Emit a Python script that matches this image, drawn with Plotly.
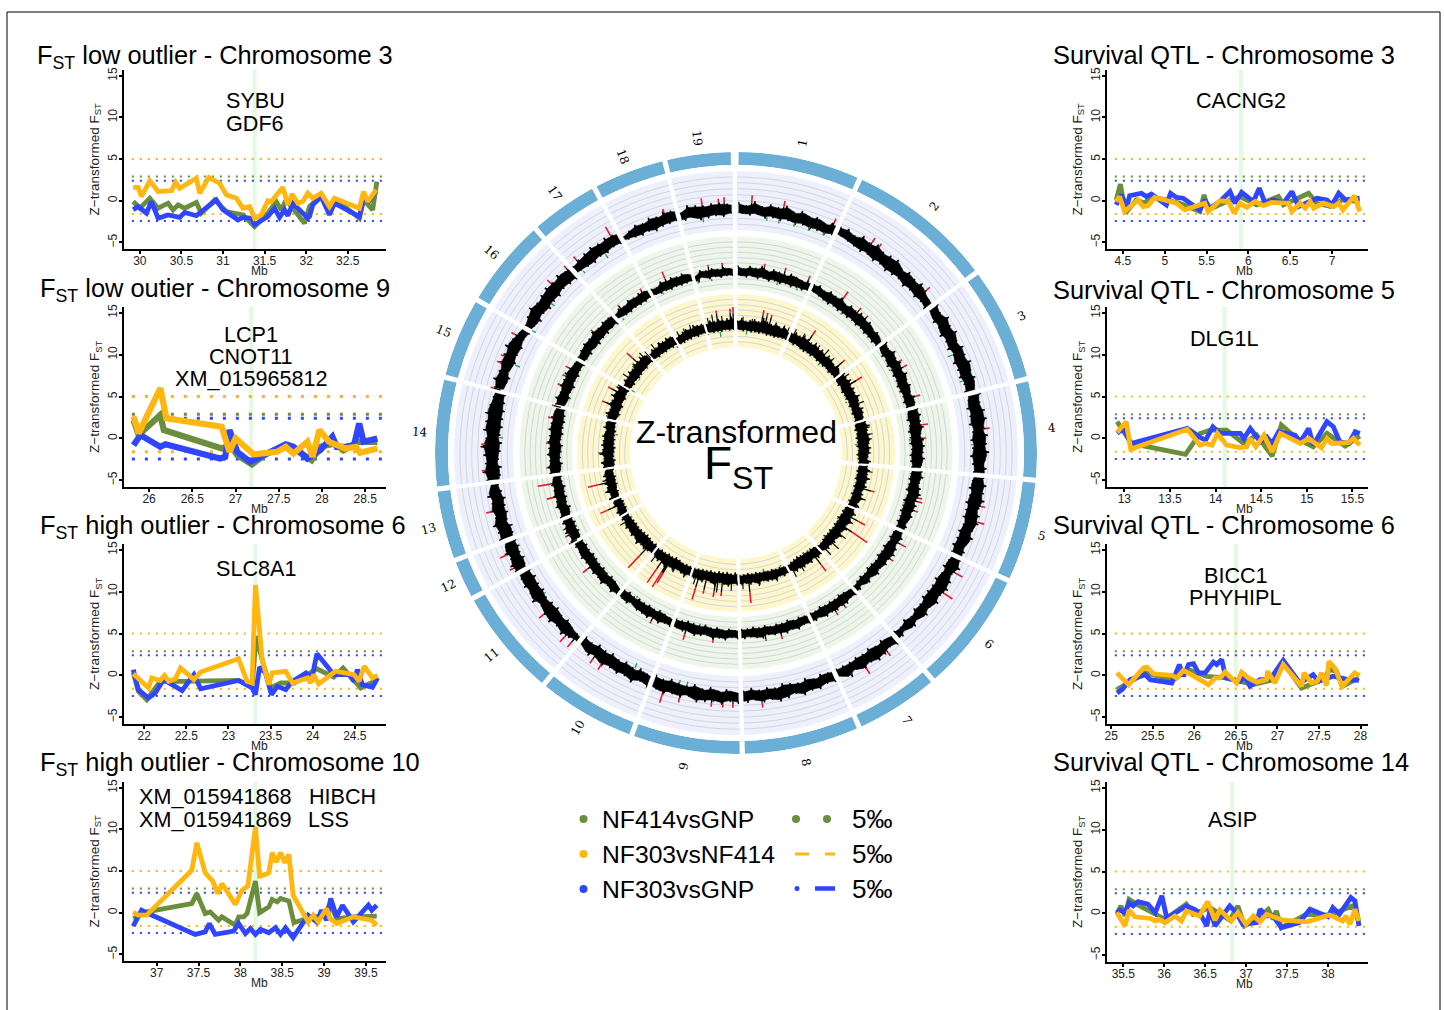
import numpy as np
import plotly.graph_objects as go

GREEN, ORANGE, BLUE = "#6B8E3D", "#FFB60F", "#2F45FF"
W, H = 1444, 1010
SANS = "Liberation Sans"

# ---------------- side panel data ----------------
p1_green_x = [29.92,30,30.12,30.22,30.34,30.4,30.46,30.54,30.68,30.74,30.9,31.04,31.24,31.38,31.54,31.64,31.7,31.76,31.98,32.04,32.18,32.28,32.36,32.64,32.69,32.8,32.85]
p1_green_y = [-0.1,-0.9,0.3,-0.9,-0.3,-1.1,-0.5,-0.9,-0.2,-1.5,0.1,-1.3,-1.7,-3.1,-1.5,-0.1,-1.1,0.1,-2.7,-0.7,0.6,-1.1,0.1,-2.1,0.1,-1.1,2.3]
p1_blue_x = [29.92,29.98,30.08,30.14,30.22,30.34,30.48,30.54,30.68,30.92,31,31.18,31.24,31.34,31.38,31.54,31.62,31.68,31.74,31.78,31.84,32.02,32.04,32.08,32.18,32.28,32.34,32.64,32.69,32.76,32.84]
p1_blue_y = [-1.1,-0.7,-1.5,-0.1,-2.1,-1.7,-2,-1.4,-1.8,0.1,-1.1,-2.3,-2,-2.1,-2.9,-1.9,-0.9,-2,-1.1,-1.8,-0.3,-2.1,-1.9,-0.5,0.5,-1.7,-0.3,-1.9,0.3,0,1.2]
p1_orange_x = [29.92,29.98,30.02,30.12,30.22,30.38,30.43,30.48,30.68,30.72,30.83,30.96,31.04,31.16,31.24,31.32,31.38,31.46,31.54,31.58,31.72,31.78,31.83,31.90,31.96,32.02,32.08,32.18,32.28,32.34,32.64,32.69,32.74,32.84]
p1_orange_y = [1.6,1.6,0.5,2.4,1.1,1.2,2.2,1.5,2.7,0.9,2.8,2.1,0.7,0.3,-0.9,-0.7,-2.1,-1.7,0,-0.1,1.6,-0.5,0.8,-0.3,-0.1,0.9,0.3,0.9,-0.7,0.3,-0.9,1.1,-0.1,1.3]

p2_green_x = [25.82,25.88,26.13,26.17,26.84,26.94,27.02,27.19,27.36,27.56,27.71,27.88,27.98,28.15,28.25,28.42,28.64]
p2_green_y = [2.2,0.4,2.8,1,-1.2,-0.8,-2,-3.1,-1.8,-1,-1.4,-2.6,-1,-0.6,-1.4,-0.4,-0.4]
p2_blue_x = [25.82,25.9,26.13,26.19,26.82,26.88,26.93,27.02,27.17,27.44,27.58,27.67,27.83,27.98,28.12,28.17,28.27,28.37,28.43,28.48,28.64]
p2_blue_y = [-0.8,0.4,-1,-0.7,-2.4,-2.2,1,-1.6,-2.8,-1.4,-0.7,-1,-2.4,-1.4,0.2,-1,-1,-0.8,1.8,-0.4,0]
p2_orange_x = [25.82,25.88,26.13,26.2,26.84,26.93,27,27.21,27.48,27.58,27.67,27.83,27.89,27.97,28.08,28.16,28.27,28.39,28.44,28.64]
p2_orange_y = [2.6,0.6,6,2.4,1.4,-1.6,0,-1.9,-1.6,-1,-1.8,-0.4,-2.2,1,-0.4,-0.8,-1.2,-1,-1.7,-1.2]

p3_green_x = [21.87,21.93,22.03,22.19,22.43,22.67,23.12,23.28,23.33,23.42,23.5,23.62,23.78,24.05,24.25,24.36,24.57,24.77]
p3_green_y = [0.3,-1.9,-2.9,-0.7,-0.7,-0.7,-0.6,-1.3,4.7,1.1,-1.5,-0.9,-0.9,0.8,-0.2,0.9,-1.5,-0.5]
p3_blue_x = [21.87,21.93,22.05,22.13,22.23,22.45,22.59,22.67,23.12,23.22,23.28,23.32,23.37,23.44,23.51,23.58,23.68,23.76,23.92,23.99,24.05,24.25,24.43,24.49,24.53,24.59,24.71,24.77]
p3_blue_y = [0.7,-1.7,-2.7,-2.1,-0.5,-1.8,0.1,-1.6,-0.6,-1.1,-1.5,-2.3,1,0.3,-2.3,-1.3,-1.7,-0.7,0.3,-0.3,2.6,0.1,0.1,-0.7,0.7,-1.1,-1.4,-0.3]
p3_orange_x = [21.87,22.05,22.09,22.19,22.24,22.29,22.37,22.43,22.59,22.67,23.12,23.22,23.28,23.32,23.40,23.48,23.52,23.68,23.76,23.94,23.97,24.01,24.07,24.27,24.49,24.55,24.61,24.71,24.77]
p3_orange_y = [0.2,-1.5,-0.3,-0.6,0,-0.7,-0.4,0.9,-0.5,0.4,2,-0.7,-0.9,10.8,1.9,-1.1,0.3,0.5,-0.9,-0.3,-0.9,0.1,-1,0.5,0.1,-0.7,1.1,-0.3,0]

p4_green_x = [36.72,36.88,37.42,37.48,37.58,37.64,37.74,37.78,37.94,37.98,38.04,38.08,38.18,38.23,38.34,38.38,38.44,38.48,38.58,38.64,38.79,39.01,39.07,39.15,39.35,39.63]
p4_green_y = [-0.7,0.1,1.1,2.3,-0.1,0.1,-0.9,-0.5,-1.5,-0.5,-0.5,-0.1,3.8,0,0.7,1.6,1.3,1.7,1.4,-1.2,-0.7,-0.3,1.1,-0.7,-0.5,-0.4]
p4_blue_x = [36.72,36.82,36.9,37.46,37.58,37.63,37.7,37.92,37.98,38.06,38.12,38.18,38.24,38.34,38.42,38.48,38.54,38.63,38.81,38.91,38.97,39.03,39.08,39.15,39.22,39.35,39.53,39.57,39.63]
p4_blue_y = [-1.6,0.3,-0.1,-2.6,-2.3,-1.3,-2.6,-2.2,-1.3,-2.5,-1.9,-2.6,-2,-2.4,-1.8,-2.6,-1.8,-3,-0.3,-1.1,0.3,-0.9,1.7,-0.5,0.9,-1.1,0.9,0.3,0.9]
p4_orange_x = [36.72,36.78,36.88,37.42,37.48,37.58,37.67,37.73,37.78,37.94,38.02,38.09,38.18,38.23,38.30,38.34,38.38,38.43,38.48,38.53,38.58,38.63,38.81,38.87,38.93,39.03,39.07,39.15,39.35,39.57,39.63]
p4_orange_y = [0.1,-0.3,-0.3,5.1,8.4,4.8,3.8,2.3,3.5,1,2.7,3.2,10.3,4.4,4.6,4.8,7.2,6.1,7.2,6,7,2.1,-1.1,-0.3,-1.1,0.5,-0.7,-1.3,-0.5,-0.9,-1.5]

r1_green_x = [4.42,4.47,4.53,4.66,4.76,4.84,5.18,5.42,5.47,5.52,5.74,5.9,6.1,6.36,6.42,6.72,6.82,6.98,7.12,7.33]
r1_green_y = [0.1,2,-1.5,0.1,-0.3,0.5,-0.3,-1.3,0.7,-1.1,-0.1,0.5,-0.5,0.5,-0.5,0.9,-0.3,-0.7,0.1,-0.1]
r1_blue_x = [4.42,4.48,4.55,4.58,4.72,4.78,4.84,5.02,5.07,5.14,5.22,5.42,5.48,5.54,5.66,5.78,5.84,5.92,6.06,6.13,6.2,6.3,6.42,6.52,6.6,6.78,6.82,6.94,7,7.08,7.16,7.33]
r1_blue_y = [-0.5,0.7,-0.7,0.6,0.9,0.5,0.8,-0.5,0.9,0.4,0.3,-1.1,0.1,-0.9,-0.1,1.1,-0.3,1,-0.1,1.5,-0.3,0.1,-0.3,1.1,-0.7,0.1,0.3,0.1,-0.5,0.9,0.1,0.3]
r1_orange_x = [4.42,4.46,4.52,4.68,4.74,4.8,4.88,5.14,5.24,5.44,5.48,5.52,5.66,5.76,5.83,5.9,5.98,6.08,6.18,6.28,6.48,6.52,6.62,6.68,6.74,6.78,6.9,7.02,7.08,7.13,7.27,7.33]
r1_orange_y = [-0.1,0.5,-1.3,0.1,-0.7,-0.6,0.4,-0.3,-1.1,-0.4,-0.3,-1.3,0,-0.1,-1.5,-0.3,-0.8,-0.1,-0.6,-0.2,-0.3,-1.3,-0.3,-0.9,-0.1,-0.9,-0.3,-0.7,-0.3,-1.1,0.6,-1.3]

r2_green_x = [12.92,13.08,13.67,13.83,13.94,14.12,14.31,14.45,14.62,14.72,14.89,15.07,15.22,15.42,15.58]
r2_green_y = [2,-0.6,-1.9,0.6,1,1,-0.6,0.4,-2.1,1.6,0,-1,0.6,-0.9,0.3]
r2_blue_x = [12.92,12.99,13.07,13.69,13.85,13.89,13.97,14.05,14.27,14.31,14.38,14.49,14.56,14.62,14.69,14.87,14.93,15.02,15.07,15.22,15.29,15.36,15.46,15.53,15.58]
r2_blue_y = [0.6,1.2,-0.6,1.2,0,-0.2,1.4,0.6,0.6,0,1.2,-0.4,0.2,-0.6,0.8,0.4,-0.4,1.2,-0.8,2,1.4,-0.4,-0.6,0.8,0.6]
r2_orange_x = [12.92,13.02,13.07,13.69,13.83,13.89,13.96,14.02,14.12,14.27,14.34,14.38,14.44,14.53,14.62,14.71,14.93,15.02,15.16,15.22,15.27,15.46,15.51,15.58]
r2_orange_y = [0.7,2,-1.3,1.1,-0.8,-0.6,-0.8,0.6,-0.8,-1.1,-1,0,-1,0.4,-1.6,0.6,-0.6,0,-1.1,0,-0.6,-0.5,0,-0.8]

r3_green_x = [25.07,25.23,25.41,25.75,25.93,26.15,26.39,26.55,26.71,26.95,27.07,27.29,27.55,27.63,27.71,27.78,27.98]
r3_green_y = [-1.7,-0.7,0.3,-0.5,0.7,-0.1,-0.3,-0.7,-1.1,-0.5,1.5,-1.5,-0.5,0.7,0.5,-1.3,-0.3]
r3_blue_x = [25.07,25.13,25.23,25.41,25.47,25.73,25.82,25.87,25.93,25.99,26.05,26.13,26.23,26.27,26.33,26.38,26.55,26.61,26.67,26.79,26.91,27.07,27.27,27.43,27.49,27.67,27.85,27.98]
r3_blue_y = [-2.1,-1.7,-0.5,0.1,-0.5,-0.9,1.3,-0.1,1.3,1.4,0.3,0.3,1.6,1.3,1.9,-0.3,-0.7,-0.1,-1.3,-0.5,-0.5,1.8,-0.9,0.1,-0.7,-0.1,-0.5,-0.6]
r3_orange_x = [25.07,25.21,25.39,25.43,25.51,25.73,25.79,25.87,26.03,26.17,26.25,26.31,26.37,26.51,26.57,26.65,26.75,26.87,26.88,26.97,27.07,27.29,27.32,27.41,27.48,27.53,27.59,27.62,27.69,27.78,27.93,27.99]
r3_orange_y = [0.3,-1.1,0.9,1,0.2,0,-0.3,0.6,-0.3,-1.1,-0.3,-0.3,0.4,-0.9,0.4,-0.3,-0.8,-0.5,0.5,-0.9,1.3,-1.3,0.3,-0.9,-0.7,0.3,-1.2,1.7,0.9,-1.3,0.3,0]

r4_green_x = [35.42,35.47,35.52,35.57,35.7,35.91,36.01,36.27,36.35,36.56,36.8,36.9,36.98,37.13,37.27,37.33,37.37,37.43,37.74,38.02,38.3,38.38]
r4_green_y = [-0.1,0.9,-0.3,1.7,0.9,-0.1,-0.7,1.1,-0.1,0.7,-0.8,0.9,-1.5,-0.7,0.5,-0.7,0.3,-1.7,-0.1,-0.2,0.9,-0.9]
r4_blue_x = [35.42,35.46,35.52,35.57,35.62,35.68,35.8,35.89,35.97,36.03,36.11,36.27,36.37,36.43,36.52,36.56,36.62,36.8,36.88,36.96,37.13,37.17,37.25,37.33,37.43,37.65,37.78,38,38.06,38.14,38.28,38.33,38.38]
r4_blue_y = [0.1,0.4,0.1,1.3,0.9,1.4,1.1,0.1,2.1,-0.5,-0.1,0.9,0.5,0.1,-1.5,0.5,-1.5,0.9,0.1,-1.3,-1.1,0.5,-0.3,-0.3,-1.7,-1.1,0.5,-0.4,0.7,-0.1,1.9,1.5,-1.5]
r4_orange_x = [35.42,35.52,35.57,35.64,35.83,35.89,35.93,36.01,36.13,36.21,36.27,36.43,36.53,36.62,36.68,36.82,36.9,37,37.09,37.17,37.25,37.45,37.74,38.02,38.18,38.22,38.27,38.33,38.38]
r4_orange_y = [0.1,-1.5,0.4,-0.4,-0.6,-0.9,-0.7,-1.1,-0.3,-0.9,0.3,-0.3,1.4,-0.8,0.4,-0.9,0.1,-1.3,-0.3,-1,-0.1,-0.8,-1,-0.2,-0.9,-0.3,-1.3,0.5,-0.9]

# thresholds (NF303vsNF414 high/low, NF414vsGNP high, NF303vsGNP high/low)
thr_orange = [5.0, -1.6]
thr_green = [2.9]
thr_blue = [2.4, -2.45]

# ---------------- genome-wide circos data ----------------
chr_names = [str(i) for i in range(1, 20)]
chr_start = [0.5,24.8,53.6,76.2,95.7,115.6,139.6,156.3,179.3,200.8,220.2,241.6,249.6,263.6,285.1,301.1,318.7,332.4,346.8]
chr_end = [23.8,52.6,75.2,94.7,114.6,138.6,155.3,178.3,199.8,219.2,240.6,248.6,262.6,284.1,300.1,317.7,331.4,345.8,359.0]

t1_hi = [
[2.5,1.5,3,1.5,2.5,2,3,1.5,2.5,1.5,2,1,2],
[2,2.5,1.5,2.8,2,3,2,2.5,3,1.5,2.5,2,2.8,1.5,1],
[2.5,1.5,3,2,2.8,1.5,2.5,2,3,2,2.5,1.5],
[2.8,2,3,3.2,2,3,2.5,3.2,2,2.5],
[2,3,2.5,3.2,2,2.8,3,2,2.8,1.5,2],
[2,3,1.5,2.5,3,2,2.8,1.5,2.5,1,2,0.5,1.5],
[2.5,1.5,2.5,3,2,3,1.5,3,1],
[2.2,1.5,2.5,2,2.8,1.5,2.5,3,2,2.5,1.5,2.2],
[2.5,1.8,2.8,2,2.5,3,1.5,2.5,2,2.8,2],
[2.5,1.5,3,2,2.5,2,3,1.5,2.5,1],
[1,2,3,2,3,2.5,1.5,3,2,2.5,2],
[2.5,3,2,3,2],
[3,2.5,3.5,2,3,2,3,1.5],
[2.5,3.5,2.5,3,4,2.5,3.5,3,3.5,2.5,2],
[2.5,3.5,2.5,3.5,3,3.8,2.5,1.5],
[1,2,3,2,2.5,3,2.5,3,2],
[1.5,2,2.5,3,2.5,3,2.5],
[0,1,2,1.5,2.5,2,3,2.5],
[1,3,2.5,2,2.5,2.5,2]]
t1_lo = [
[-1.5,-2,-1.5,-2.5,-2,-2.5,-2,-2.8,-2.2,-3,-2.5,-3,-2],
[-1,-1.5,-2,-2.5,-2,-2.8,-2.2,-3,-2.5,-2,-2.8,-2,-2.5,-1.8,-2.5],
[-1.5,-2.5,-2,-3,-2.2,-2.8,-2,-3,-2.5,-2.8,-2,-2.5],
[-2,-3,-2.5,-3,-2.2,-3,-2.5,-3.2,-2.5,-2],
[-2,-2.8,-2.2,-3,-2.5,-2.8,-2,-2.8,-2.5,-3,-2.5],
[-2,-2.8,-2,-3,-2.5,-2.8,-3,-2,-2.5,-1.5,-2.5,-1.5,-2],
[-1.5,-2.5,-2,-2.8,-2.2,-2.5,-2,-2,-2],
[-2,-2.5,-1.8,-2.8,-2,-2.5,-3,-2,-2.5,-2,-2.8,-2],
[-1.5,-2.5,-1.8,-2.8,-2,-3,-2.2,-2.5,-3,-2.2,-2.8],
[-2,-2.8,-2,-2.8,-2.2,-3,-2.5,-3,-2,-2.5],
[-1,-1.5,-2.5,-2,-2.8,-2.5,-2,-2.8,-2.5,-3,-2.5],
[-2,-2.8,-2.2,-2.8,-2.5],
[-2.5,-3,-2,-2.8,-2.5,-3,-2.2,-1.5],
[-2.5,-3,-2.2,-2.8,-3.2,-2.5,-3,-2.8,-3,-2.5,-2.2],
[-1,-2,-1,-2,-1.5,-2,-1.2,-2],
[-2,-3,-2.2,-3,-2.5,-2.8,-2,-2.5,-2.8],
[-1.5,-2,-2.5,-1.8,-2.2,-1.5,-1.8],
[-1.5,-2,-2.5,-2,-2.8,-2,-1.8,-1.5],
[-2,-1.5,-2.8,-2.5,-2,-2.5,-1.5]]

t2_hi = [
[2.5,1.5,2.5,2,3,1.5,2.5,2,1.5,2.5,2,1.5,2],
[2,2.5,1.5,2.5,2,2.8,1.5,2.5,2,2.8,2.2,2.5,1.5,2,1],
[2.5,1.5,3,2,2.8,2,3,2,2.5,1.5,2.5,2],
[2.5,3,2.5,3.2,2,2.8,3,2.5,3,2],
[2.5,3,2,2.8,3.2,2,2.8,2,2.5,1.5,2],
[1.5,2.5,1.5,2.5,3,2,2.5,1.5,2.5,1,2,0.5,1.5],
[2,1.5,2.5,2,2.5,2,2.5,1.5,2],
[2,1.5,2.5,1.8,2.5,2,2,1.5,2.5,2,1.5,2],
[2,1.5,2.5,2,2.5,1.5,2,2.5,1.5,2,1.5],
[2,1.5,2.5,1.5,2.5,2,2,1,2,1.5],
[1.5,2.5,1.5,2.8,2,2.5,2,2,2.5,1.8,2],
[2.5,2,3,2,2.5],
[2.5,1.8,2.8,2,2.5,2,2.5,1.5],
[2.5,3,2.2,3,2.5,3,2.5,3,2.5,2.8,2],
[2.5,3,2,3,2.5,3,2,1.5],
[1.5,2,2.5,2,2.8,2,2.5,2],
[1,2,1.5,2.5,2,2.5,2],
[1.5,1,2.5,2,2.5,2,2.5,1.5],
[0,2,1.5,2,1.5,2,1.5]]
t2_lo = [
[-1.5,-2,-1.5,-2.2,-1.8,-2.5,-2,-2.5,-2,-2.5,-2,-2.2,-1.5],
[-1,-1.5,-2,-2.5,-2,-2.5,-2.2,-2.5,-2,-2.5,-2,-2.5,-2.2,-2.5,-2],
[-1.5,-2.5,-2,-2.8,-2,-2.5,-2.2,-2.8,-2.5,-2,-2.5,-2],
[-2,-2.8,-2.2,-3,-2.5,-2.8,-2.2,-2.8,-2.5,-2],
[-2,-2.5,-2.2,-2.8,-2,-2.8,-2.5,-2.8,-2.2,-2.5,-2],
[-2,-2.5,-2,-2.8,-2.2,-2.8,-2,-2.5,-2.8,-2,-2.5,-2,-1.5],
[-1.5,-2,-2.5,-2,-2.2,-2,-2.5,-1.8,-2],
[-1.8,-2.2,-1.8,-2.5,-2,-2.2,-1.8,-2.5,-2,-2.5,-2,-2],
[-1.5,-2,-1.5,-2.2,-1.8,-2.5,-2,-2.2,-2.5,-2,-2],
[-1.5,-2,-2.5,-2,-2.5,-2.2,-2.5,-2,-2.5,-2],
[-1,-2,-2.5,-2,-2.5,-2.2,-2.5,-2.8,-2.2,-2.5,-2],
[-2,-2.5,-2.2,-2.5,-2],
[-2,-2.8,-2,-2.5,-2.2,-2.8,-2,-2],
[-2,-2.8,-2.2,-2.5,-3,-2.2,-2.8,-2.5,-2.8,-2.5,-2],
[-1.5,-2.5,-2,-2.8,-2,-2.5,-2,-2.5],
[-2,-2.5,-2,-2.8,-2.2,-2.5,-2,-2.5,-2],
[-1,-2,-2.2,-1.8,-2,-2,-1.5],
[-1.5,-2,-1.8,-2.2,-1.8,-2,-1.8,-1.5],
[-2.5,-1,-2,-1.5,-2,-1.5,-1.5]]

t3_hi = [
[2,3,2,2.5,3,2.5,4,3,2.5,3.5,2.5,3.5,2],
[2,3,2.5,3.5,3,2.5,3.5,2.5,3,2,3,2.5,2,3,1.5],
[3,2.5,3.5,2.5,3,2.5,3.5,2.5,2,3,2.5,2],
[2.5,3.5,2.5,3,3.5,2.5,3,2.5,2,3],
[2,3,2.5,3.5,2.5,3,2,2.5,3,2,2.5],
[1.5,3,2,3.5,2,3,2,3,2,2.5,2,2.5,1.5],
[2,2.5,1.5,2.5,2,2.5,2,2.5,1],
[1.5,2,1.5,2.5,2,2,1.5,2.5,1.5,2,1.5,2],
[2,1.5,2.5,2,1.5,3,2,1.5,2.5,2,2],
[1.5,2.5,2,1.5,2.5,2,3,2,2.5,1.5],
[1.5,2,2.5,2,3,2,2.5,2,2.5,1.5,2],
[2,2.5,1.5,2.5,2],
[3,2,3.5,2.5,3,2.5,3,2],
[2.5,3,2,3.5,2.5,3,2.5,3,2,3,2.5],
[2.5,3.5,2.5,4,3,4,3,3.5],
[1.5,2.5,2,3,2.5,3.5,3,3.5,2.5],
[1.5,2.5,2,3,2.5,3,2.5],
[1,1.5,2,2.5,2,3,2.5,2.5],
[2,3,2.5,3,2.5,3,3.5]]
t3_lo = [
[-1.5,-2,-1.8,-2.2,-2,-2.2,-1.8,-2.2,-2,-2.2,-1.8,-1.5,-1.5],
[-1.5,-2,-1.5,-2,-2.2,-1.8,-2,-1.5,-2,-1.8,-2,-1.5,-2,-1.5,-1.5],
[-1.5,-2,-1.5,-2.2,-1.8,-2,-1.5,-2,-1.5,-2,-1.5,-1.8],
[-2,-2.5,-2,-2.5,-2.2,-2.5,-2,-2.5,-2,-1.8],
[-1.5,-2,-1.8,-2.2,-1.5,-2,-1.5,-2,-1.5,-2,-1.5],
[-2,-2.5,-2.2,-2.8,-2.2,-2.5,-2,-2.5,-2.2,-2.5,-2,-1.5,-1.5],
[-2,-2.5,-2.2,-2.8,-2.5,-2.8,-2.5,-2,-1.5],
[-1.5,-2,-1.8,-2.2,-2,-2.5,-2.2,-2.5,-2.2,-2.5,-2.2,-2],
[-3,-2.5,-3,-2.8,-3,-2.5,-2.8,-2.5,-2.5,-2.2,-2],
[-2,-2.2,-2,-2.5,-2.8,-2.2,-2.5,-2,-2.2,-1.8],
[-2.5,-2.2,-2.5,-2.8,-2.5,-2.2,-2,-2.2,-2,-1.8,-1.5],
[-1.5,-2,-1.8,-2,-1.5],
[-1,-1.5,-1.2,-1.8,-1.5,-1.8,-1.2,-1.5],
[-2,-2.5,-2,-2.2,-2.5,-2,-2.2,-1.8,-2,-1.5,-1.5],
[-1,-2,-1.5,-2,-1.2,-1.8,-1.2,-1.5],
[-1.5,-2,-1.5,-2,-1.8,-1.5,-1.8,-1.2,-1.5],
[-1.2,-1.8,-1.5,-1.8,-1.5,-1.8,-1.5],
[-2,-2.2,-1.8,-2,-1.5,-2,-1.5,-1.5],
[-1.5,-2,-1.8,-2,-1.5,-1.8,-1.5]]

# outlier spikes: angle (degrees clockwise from chromosome 1 start) and top value
t1_high_theta = [352.2,357.3,356,343.3,330,320.4,317.4,312.5,298.2,292.7,291,285,272,266,256.5,246,242.6,230,223,221,214.8,212.5,197,193,185.6,183,180.7,174,148.8,142.7,124,118.7,106,102.3,3.6,11,23.1,32.9,34.8,49.5,84.4]
t1_high_z = [4.5,4.2,3.8,3.8,5.9,3.8,3.5,4.2,3.8,3.8,4.2,3.5,3.8,3.8,4.5,4.9,3.8,4.5,4.9,4.5,4.2,4.5,5.9,4.2,3.8,3.8,3.8,4.2,4.9,3.8,5.9,4.9,4.9,3.8,4.9,4.5,3.8,4.2,3.8,3.8,3.8]
t2_high_theta = [337.8,351.5,355.8,329.7,321.4,310.3,297,294.3,291.2,284.6,280.8,273,265.5,260.5,256.3,246,243.8,241.4,232,206.8,195.8,187,170.9,166,147.8,144.6,124.5,119,108,105,103.9,8.7,15.1,22.7,34.8,40.8,43.9,60.7,62.8,72.5,81.4,85.5]
t2_high_z = [5.6,3.5,3.7,3.5,3.2,3.5,3.9,3.5,3.9,3.5,3.9,3.5,3.5,7.6,5.2,3.2,3.5,3.5,5,3.7,5,3.9,3.5,4.1,4,3.5,3.7,5,3.9,4.5,4.1,3.9,4.1,4.2,5.8,4,3.5,3.5,4.3,4.6,5,3.7]
t3_high_theta = [352,357.6,358.8,312.5,297.3,291.2,257,246,223.2,214.4,212,211.3,211.7,196.7,193.2,189,188,186,174.3,142.7,124.3,119.2,105.7,11.1,14.6,12.8,33,49.5,58.9,58.9]
t3_high_z = [6.3,6.5,7.1,7.8,6.3,6.2,9.4,8,11.4,11.3,11.6,9.4,5.2,9.7,6.5,7.1,5.2,6.3,8.9,8,12,7.7,6.3,6.9,5.8,6.2,7.2,6,7.5,5.2]
t3_black_theta = [348,350,354,340,337,334,325,322,318,316,310,305,300,292,286,270,266,258,250,238,228,218,208,203,198,182,177,170,162,30,26,23,38,42,46,55,68,79,82,90,98,110,114,128,133,137,150,154,7,3]
t3_black_z = [4,5,4,3.5,3,3,3,4,3.5,4.5,3,4,3.5,3,3,4,3,3.5,3,3.5,3,4,3,3,4,4,3.5,3,3,4,4,3.5,3.5,4.5,3.5,4,4,3.5,4,3,4,4,3,4.5,5,4.5,3.5,4,3,3.5]
t1_low_theta = [301,291.7,273.7,309,320,326.7,352,21.8,18,14.3,10.5,7.5,65.6,72.4,88,193.8,191.9,205.2,233.8]
t1_low_z = [-3.4,-3.8,-3.5,-3.4,-3,-3.6,-3.6,-3.1,-3.4,-3.4,-3.4,-3.2,-3.8,-3,-2.8,-3.4,-3.4,-3.8,-2.6]
t2_low_theta = [319.9,288.2,352,347.5,335.5,13.7,20.4,37,61.7,85.7,214.5,191.8,106.5]
t2_low_z = [-2.8,-2.8,-2.9,-2.8,-2.5,-3.2,-2.8,-2.8,-2.8,-3,-2.9,-2.5,-2.5]
t3_low_theta = [278.7,301,307.2,331,352.6,347,5,43,65.4,86,118,122.8,133.3,143.8,146,158.5,166.9]
t3_low_z = [-3,-3.5,-2.5,-2.7,-3.8,-2.3,-3.1,-2.7,-2.7,-3,-2.3,-2.7,-2.8,-2.6,-2.7,-2.6,-3.1]

fig = go.Figure()
shapes, annos = [], []

def px_x(p): return p / W
def px_y(p): return 1 - p / H

def note(text, x, y, size, anchor="center", angle=0, font=SANS, color="black"):
    annos.append(dict(text=text, x=px_x(x), y=px_y(y), xref="paper", yref="paper", showarrow=False,
                      xanchor=anchor, yanchor="middle", textangle=angle,
                      font=dict(family=font, size=size, color=color)))

panels = [
 ("p1", "F<sub>ST</sub> low outlier - Chromosome 3", 35, 57, (124,386,70,249), (29.81,32.96), [30,30.5,31,31.5,32,32.5], 31.38,
  (p1_green_x,p1_green_y,p1_blue_x,p1_blue_y,p1_orange_x,p1_orange_y), [("SYBU",255,101),("GDF6",255,123)], 4.8, "2px,6px", 2),
 ("p2", "F<sub>ST</sub> low outier - Chromosome 9", 38, 290, (124,386,307,487), (25.71,28.74), [26,26.5,27,27.5,28,28.5], 27.18,
  (p2_green_x,p2_green_y,p2_blue_x,p2_blue_y,p2_orange_x,p2_orange_y), [("LCP1",251,334),("CNOT11",251,356),("XM_015965812",251,378)], 6.2, "3px,10px", 3),
 ("p3", "F<sub>ST</sub> high outlier - Chromosome 6", 38, 527, (124,386,544,724), (21.76,24.87), [22,22.5,23,23.5,24,24.5], 23.32,
  (p3_green_x,p3_green_y,p3_blue_x,p3_blue_y,p3_orange_x,p3_orange_y), [("SLC8A1",256,568)], 4.8, "2px,6px", 2),
 ("p4", "F<sub>ST</sub> high outlier - Chromosome 10", 38, 764, (124,386,782,961), (36.61,39.74), [37,37.5,38,38.5,39,39.5], 38.18,
  (p4_green_x,p4_green_y,p4_blue_x,p4_blue_y,p4_orange_x,p4_orange_y), [("XM_015941868",216,796),("XM_015941869",216,819),("HIBCH",342,796),("LSS",328,819)], 4.8, "2px,6px", 2),
 ("r1", "Survival QTL - Chromosome 3", 1051, 55, (1107,1368,70,249), (4.31,7.43), [4.5,5,5.5,6,6.5,7], 5.91,
  (r1_green_x,r1_green_y,r1_blue_x,r1_blue_y,r1_orange_x,r1_orange_y), [("CACNG2",1241,101)], 4.8, "2px,6px", 2),
 ("r2", "Survival QTL - Chromosome 5", 1051, 290, (1107,1368,307,487), (12.81,15.67), [13,13.5,14,14.5,15,15.5], 14.1,
  (r2_green_x,r2_green_y,r2_blue_x,r2_blue_y,r2_orange_x,r2_orange_y), [("DLG1L",1224,338)], 4.8, "2px,6px", 2),
 ("r3", "Survival QTL - Chromosome 6", 1051, 525, (1107,1368,544,724), (24.95,28.09), [25,25.5,26,26.5,27,27.5,28], 26.5,
  (r3_green_x,r3_green_y,r3_blue_x,r3_blue_y,r3_orange_x,r3_orange_y), [("BICC1",1236,575),("PHYHIPL",1235,597)], 4.8, "2px,6px", 2),
 ("r4", "Survival QTL - Chromosome 14", 1051, 762, (1107,1368,782,962), (35.30,38.49), [35.5,36,36.5,37,37.5,38], 36.83,
  (r4_green_x,r4_green_y,r4_blue_x,r4_blue_y,r4_orange_x,r4_orange_y), [("ASIP",1232,819)], 4.8, "2px,6px", 2),
]

layout_axes = {}
for i, (name, title, tx, ty, box, xr, xt, band, s, genes, lw, dash, dashw) in enumerate(panels, start=1):
    L, R, T, B = box
    n = "" if i == 1 else str(i)
    xa, ya = f"x{n}", f"y{n}"
    axis_common = dict(showgrid=False, zeroline=False, showline=True, linecolor="black", linewidth=2,
                       ticks="outside", ticklen=3, tickwidth=1.5, tickcolor="black",
                       tickfont=dict(family=SANS, size=12, color="#222"))
    layout_axes[f"xaxis{n}"] = dict(domain=[L/W, R/W], range=list(xr), anchor=ya, tickvals=xt, ticklabelstandoff=-3,
                                    ticktext=[f"{v:g}" for v in xt], tickangle=0, **axis_common)
    layout_axes[f"yaxis{n}"] = dict(domain=[1-B/H, 1-T/H], range=[-5.8, 15.7], anchor=xa, ticklabelstandoff=-3,
                                    tickvals=[-5,0,5,10,15], tickangle=-90, **axis_common)
    half = 2 * (xr[1]-xr[0]) / (R-L)
    shapes.append(dict(type="rect", xref=xa, yref=f"{ya} domain", x0=band-half, x1=band+half, y0=0, y1=1,
                       fillcolor="#E2FAE2", line=dict(width=0), layer="below"))
    x0 = xr[0] + 0.03*(xr[1]-xr[0])
    for vals, col in ((thr_orange, ORANGE), (thr_green, GREEN), (thr_blue, BLUE)):
        for v in vals:
            fig.add_trace(go.Scatter(x=[x0, xr[1]], y=[v, v], xaxis=xa, yaxis=ya, mode="lines", hoverinfo="skip",
                                     line=dict(color=col, width=dashw, dash=dash), showlegend=False))
    for (sx, sy, col) in ((s[0], s[1], GREEN), (s[2], s[3], BLUE), (s[4], s[5], ORANGE)):
        fig.add_trace(go.Scatter(x=sx, y=sy, xaxis=xa, yaxis=ya, mode="lines",
                                 line=dict(color=col, width=lw), showlegend=False))
    note(title, tx, ty, 25.4, anchor="left")
    for g, gx, gy in genes:
        note(g, gx, gy, 21.6)
    left = i <= 4
    note("Mb", 259 if left else 1244, B+22, 12, color="#222")
    note("Z\u2212transformed F<sub>ST</sub>", 95 if left else 1078, (T+B)/2, 13.5, angle=-90, color="#222")

# ---------------- circos ----------------
CX, CY = 736, 453
start = np.array(chr_start); end = np.array(chr_end)

def polar_layout(R, r_in, rng, bg, tickvals=None):
    return dict(domain=dict(x=[(CX-R)/W, (CX+R)/W], y=[1-(CY+R)/H, 1-(CY-R)/H]),
                hole=r_in/R, bgcolor=bg,
                angularaxis=dict(visible=False, rotation=90, direction="clockwise"),
                radialaxis=dict(visible=tickvals is not None, range=list(rng), showticklabels=False, ticks="",
                                showline=False, tickvals=tickvals, gridcolor="#D3D6DA", gridwidth=0.6))

polars = {"polar": polar_layout(301, 288, (0, 1), "rgba(0,0,0,0)")}
fig.add_trace(go.Barpolar(theta=(start+end)/2, width=end-start, r=[1]*19, base=0, subplot="polar",
                          marker=dict(color="#6BAED6", line=dict(width=0)), showlegend=False, hoverinfo="text",
                          text=chr_names))

tracks = [
 ("polar2", 282, 223, (-7, 13), "#EEF1FD", t1_hi, t1_lo, (t1_high_theta, t1_high_z), 2.5, (t1_low_theta, t1_low_z), None),
 ("polar3", 216.5, 164, (-6.5, 13.5), "#EDF6E8", t2_hi, t2_lo, (t2_high_theta, t2_high_z), 2.8, (t2_low_theta, t2_low_z), None),
 ("polar4", 159, 106, (-8, 12), "#FEF7CC", t3_hi, t3_lo, (t3_high_theta, t3_high_z), 5.0, (t3_low_theta, t3_low_z), (t3_black_theta, t3_black_z)),
]

def stems(thetas, lows, highs):
    th, rr = [], []
    for t, a, b in zip(thetas, lows, highs):
        th += [t, t, None]; rr += [a, b, None]
    return th, rr

for key, R, rin, rng, bg, hi, lo, high, thr, low, black in tracks:
    ticks = [float(v) for v in np.arange(rng[0]+2, rng[1], 2)]
    polars[key] = polar_layout(R, rin, rng, bg, ticks)
    gaps = [float(v) for v in (end[:-1] + start[1:]) / 2] + [float((end[-1] + 360 + start[0]) / 2 % 360)]
    th, rr = stems(gaps, [rng[0]]*19, [rng[1]]*19)
    fig.add_trace(go.Scatterpolar(theta=th, r=rr, subplot=key, mode="lines", line=dict(color="white", width=4),
                                  hoverinfo="skip", showlegend=False))
    # solid core of the noisy signal, then the signal's jagged trace
    th, rr, zt, zr = [], [], [], []
    for c in range(19):
        a, b = start[c]+0.1, end[c]-0.1
        th += [float(v) for v in np.linspace(a, b, len(hi[c]))] + [float(v) for v in np.linspace(b, a, len(lo[c]))] + [None]
        rr += [v*0.75 for v in hi[c]] + [v*0.75 for v in lo[c]][::-1] + [None]
        m = min(len(hi[c]), len(lo[c]))
        tt = np.linspace(a, b, 2*m)
        for k in range(m):
            zt += [float(tt[2*k]), float(tt[2*k+1])]
            zr += [hi[c][k], lo[c][k]]
        zt.append(None); zr.append(None)
    fig.add_trace(go.Scatterpolar(theta=th, r=rr, subplot=key, mode="lines", fill="toself", fillcolor="black",
                                  line=dict(color="black", width=0.5), hoverinfo="skip", showlegend=False))
    fig.add_trace(go.Scatterpolar(theta=zt, r=zr, subplot=key, mode="lines", line=dict(color="black", width=1.2),
                                  hoverinfo="skip", showlegend=False))
    if black:
        th, rr = stems(black[0], [0]*len(black[0]), black[1])
        fig.add_trace(go.Scatterpolar(theta=th, r=rr, subplot=key, mode="lines", line=dict(color="black", width=1.1),
                                      hoverinfo="skip", showlegend=False))
    th, rr = stems(high[0], [0]*len(high[0]), [thr]*len(high[0]))
    fig.add_trace(go.Scatterpolar(theta=th, r=rr, subplot=key, mode="lines", line=dict(color="black", width=1.3),
                                  hoverinfo="skip", showlegend=False))
    th, rr = stems(high[0], [thr]*len(high[0]), high[1])
    fig.add_trace(go.Scatterpolar(theta=th, r=rr, subplot=key, mode="lines", line=dict(color="#E8192C", width=1.6),
                                  hoverinfo="skip", showlegend=False))
    th, rr = stems(low[0], [-2]*len(low[0]), low[1])
    fig.add_trace(go.Scatterpolar(theta=th, r=rr, subplot=key, mode="lines", line=dict(color="#1E9E4A", width=1.3),
                                  hoverinfo="skip", showlegend=False))

for name, a, b in zip(chr_names, start, end):
    mid = float((a+b)/2)
    m = np.radians(mid)
    ang = mid-90 if mid < 180 else mid+90-360
    note(name, float(CX+317*np.sin(m)), float(CY-317*np.cos(m)), 12, angle=ang, font="DejaVu Serif")

note("Z-transformed", 737, 432, 32)
note("F<sub>ST</sub>", 738, 467, 46)

# ---------------- legend ----------------
def dot(x, y, r, col):
    shapes.append(dict(type="circle", xref="paper", yref="paper", x0=px_x(x-r), x1=px_x(x+r), y0=px_y(y+r), y1=px_y(y-r),
                       fillcolor=col, line=dict(width=0)))
def seg(x0, y0, x1, y1, col, w):
    shapes.append(dict(type="line", xref="paper", yref="paper", x0=px_x(x0), x1=px_x(x1), y0=px_y(y0), y1=px_y(y1),
                       line=dict(color=col, width=w)))

for lab, col, y in (("NF414vsGNP", GREEN, 819), ("NF303vsNF414", ORANGE, 854), ("NF303vsGNP", BLUE, 889)):
    dot(583.5, y, 4, col)
    note(lab, 600, y, 24.7, anchor="left")
    note("5\u2030", 850, y, 26, anchor="left")
dot(796, 819, 4, GREEN); dot(827, 819, 4, GREEN)
seg(795, 854, 809, 854, ORANGE, 3); seg(825, 854, 835, 854, ORANGE, 3)
dot(797, 888.5, 2.5, BLUE); seg(815, 888.5, 835, 888.5, BLUE, 4.5)

# page frame
seg(7, 12, 1440, 12, "black", 1); seg(7, 12, 7, 1010, "black", 1); seg(1440, 12, 1440, 1010, "black", 1)

fig.update_layout(width=W, height=H, margin=dict(l=0, r=0, t=0, b=0, pad=0, autoexpand=False), paper_bgcolor="white", plot_bgcolor="rgba(0,0,0,0)",
                  showlegend=False, shapes=shapes, annotations=annos, font=dict(family=SANS),
                  **layout_axes, **polars)
fig.write_html("out.html", config={"displayModeBar": False},
               post_script="document.body.style.margin='0';document.body.style.overflow='hidden';")
